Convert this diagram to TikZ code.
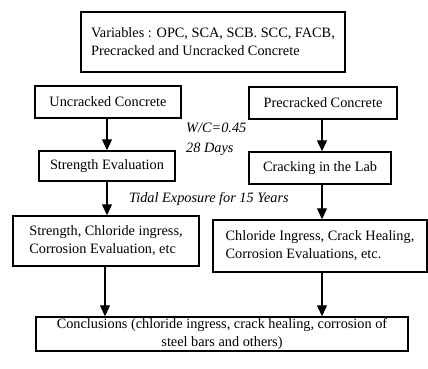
\documentclass[tikz,border=0pt]{standalone}
\usepackage{fontspec}
\setmainfont{Liberation Serif}
\usetikzlibrary{arrows.meta}
\begin{document}
\begin{tikzpicture}[x=1pt,y=-1pt,
  box/.style={draw,line width=1.5pt,rectangle,inner sep=0pt,font=\fontsize{14.3}{18}\selectfont,align=center},
  lbox/.style={box,align=left},
  lab/.style={anchor=west,inner sep=0pt,font=\fontsize{14.3}{17}\selectfont\itshape},
  arr/.style={-{Triangle[width=10pt,length=11pt]},line width=1.4pt}]
\useasboundingbox (0,0) rectangle (428,369);
\coordinate (lx) at (107,0);
\coordinate (lx2) at (105,0);
\coordinate (rx) at (322,0);
\node[lbox,minimum width=264pt,minimum height=60pt] (top) at (213,42) {Variables : OPC, SCA, SCB. SCC, FACB,\\Precracked and Uncracked Concrete};
\node[box,minimum width=146pt,minimum height=32pt] (unc) at (108,102) {Uncracked Concrete};
\node[box,minimum width=148pt,minimum height=32pt] (pre) at (323,103) {Precracked Concrete};
\node[box,minimum width=136pt,minimum height=30pt] (str) at (107,166) {Strength Evaluation};
\node[box,minimum width=142pt,minimum height=32pt] (crk) at (320,168) {Cracking in the Lab};
\node[lbox,minimum width=186pt,minimum height=50pt] (sce) at (106,241) {Strength, Chloride ingress,\\Corrosion Evaluation, etc};
\node[lbox,minimum width=214pt,minimum height=52pt] (cie) at (320,246) {Chloride Ingress, Crack Healing,\\Corrosion Evaluations, etc.};
\node[box,minimum width=372pt,minimum height=34pt] (con) at (222,334) {Conclusions (chloride ingress, crack healing, corrosion of\\steel bars and others)};
\node[lab] (wc) at (186,128) {W/C=0.45};
\node[lab] (days) at (186,149) {28 Days};
\node[lab] (tidal) at (129,199) {Tidal Exposure for 15 Years};
\draw[arr] (unc.south -| lx) -- (str.north -| lx);
\draw[arr] (pre.south -| rx) -- (crk.north -| rx);
\draw[arr] (str.south -| lx) -- (sce.north -| lx);
\draw[arr] (crk.south -| rx) -- (cie.north -| rx);
\draw[arr] (sce.south -| lx2) -- (con.north -| lx2);
\draw[arr] (cie.south -| rx) -- (con.north -| rx);
\end{tikzpicture}
\end{document}
